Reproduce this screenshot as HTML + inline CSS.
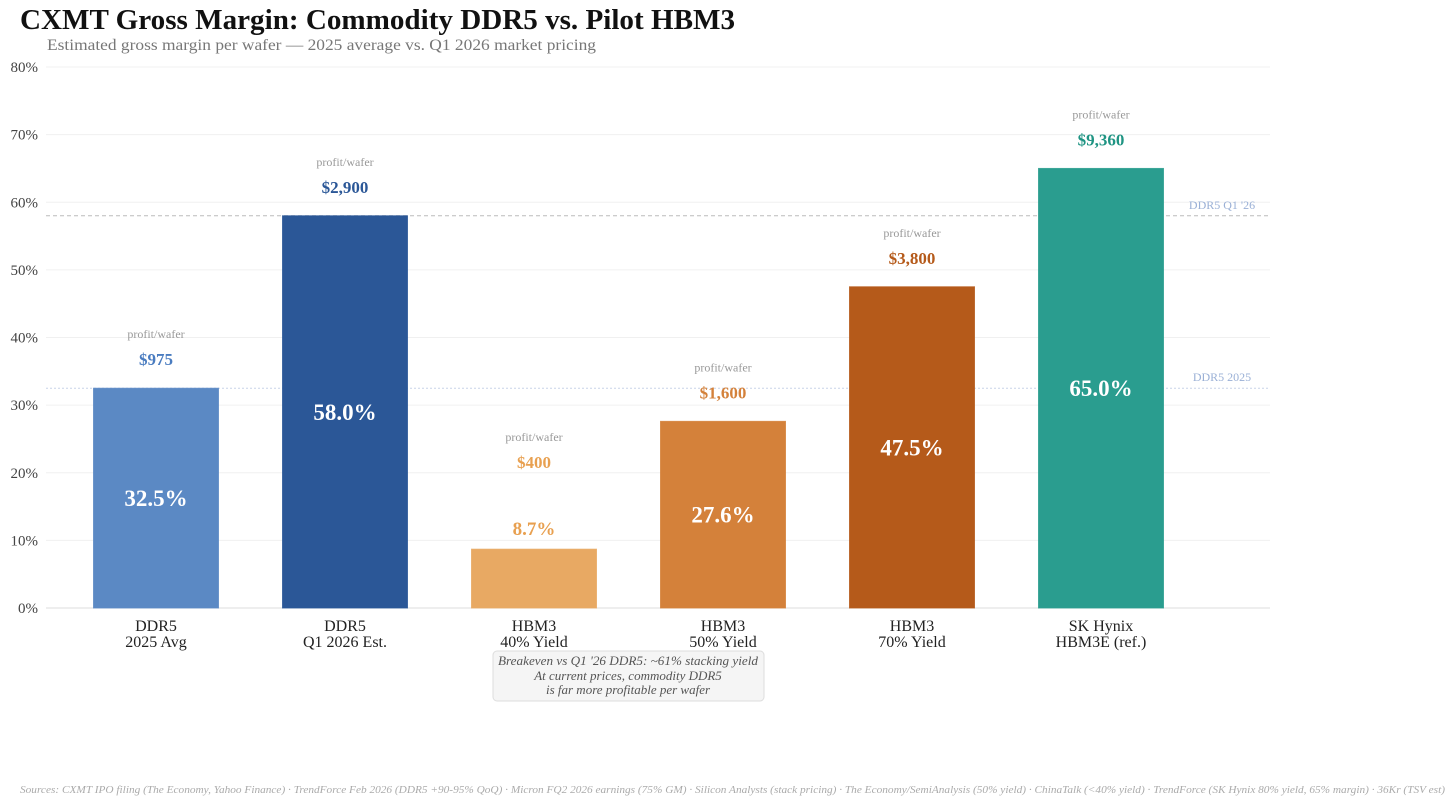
<!DOCTYPE html>
<html><head><meta charset="utf-8"><style>
body{margin:0;background:#fff;width:1456px;height:805px;overflow:hidden;font-family:"Liberation Serif",serif}
</style></head><body>
<svg id="c" width="1456" height="805" xmlns="http://www.w3.org/2000/svg" font-family="Liberation Serif, serif">
<text x="20" y="29" font-size="28" font-weight="bold" fill="#111" textLength="715" lengthAdjust="spacingAndGlyphs">CXMT Gross Margin: Commodity DDR5 vs. Pilot HBM3</text>
<text x="47" y="50" font-size="16" fill="#777" textLength="549" lengthAdjust="spacingAndGlyphs">Estimated gross margin per wafer — 2025 average vs. Q1 2026 market pricing</text>
<g id="grid"></g><g id="bars"></g>
<g>
<rect x="493" y="651" width="271" height="50" rx="4" fill="#f5f5f5" stroke="#ddd"/>
<text x="628" y="665" font-size="13" font-style="italic" fill="#555" text-anchor="middle" textLength="260" lengthAdjust="spacingAndGlyphs">Breakeven vs Q1 '26 DDR5: ~61% stacking yield</text>
<text x="628" y="680" font-size="13" font-style="italic" fill="#555" text-anchor="middle">At current prices, commodity DDR5</text>
<text x="628" y="694" font-size="13" font-style="italic" fill="#555" text-anchor="middle">is far more profitable per wafer</text>
</g>
<text x="20" y="793" font-size="10" font-style="italic" fill="#aaa" textLength="1425" lengthAdjust="spacingAndGlyphs">Sources: CXMT IPO filing (The Economy, Yahoo Finance) · TrendForce Feb 2026 (DDR5 +90-95% QoQ) · Micron FQ2 2026 earnings (75% GM) · Silicon Analysts (stack pricing) · The Economy/SemiAnalysis (50% yield) · ChinaTalk (&lt;40% yield) · TrendForce (SK Hynix 80% yield, 65% margin) · 36Kr (TSV est)</text>
</svg>
<script>
const categories=[["DDR5","2025 Avg"],["DDR5","Q1 2026 Est."],["HBM3","40% Yield"],["HBM3","50% Yield"],["HBM3","70% Yield"],["SK Hynix","HBM3E (ref.)"]];
const margins=[32.5,58.0,8.7,27.6,47.5,65.0];
const profits=["$975","$2,900","$400","$1,600","$3,800","$9,360"];
const yTicks=[0,10,20,30,40,50,60,70,80];
const refValues=[58.0,32.5];
const refLabels=["DDR5 Q1 '26","DDR5 2025"];
const fills=["#5b89c4","#2b5797","#e8a963","#d4813a","#b55a1a","#2a9d8f"];
const dollarColors=["#4a7cc0","#2b5797","#e8a050","#d4813a","#b55a1a","#1f9483"];
const NS="http://www.w3.org/2000/svg";
const y=v=>608-v*6.7625;
const x=i=>156+i*189;
function el(t,a,p,txt){const e=document.createElementNS(NS,t);for(const k in a)e.setAttribute(k,a[k]);if(txt!==undefined)e.textContent=txt;p.appendChild(e);return e;}
const g=document.getElementById('grid'),b=document.getElementById('bars');
yTicks.forEach(v=>{
  const l=el('line',{x1:46,x2:1270,y1:y(v),y2:y(v),stroke:v===0?'#ddd':'#f0f0f0','stroke-width':1},g);
  
  
  const t=el('text',{x:38,y:y(v)+5,'font-size':15,fill:'#444','text-anchor':'end'},g,v+'%');
  
  
});
refValues.forEach((v,i)=>{
  const l=el('line',{x1:46,x2:1270,y1:y(v),y2:y(v),stroke:i===0?'#bbb':'#c8d4e8','stroke-width':1,'stroke-dasharray':i===0?'4,3':'2,2'},g);
  
  
  const t=el('text',{x:1222,y:y(v)-7,'font-size':12,fill:'#9ab0d6','text-anchor':'middle'},g,refLabels[i]);
  
  
});
margins.forEach((m,i)=>{
  const cx=x(i),top=y(m);
  const r=el('rect',{x:cx-62.5,y:top,width:125,height:608-top,fill:fills[i],stroke:fills[i],'stroke-opacity':0.8},b);
  
  
  let vy,vc;
  if(m<15){vy=top-14;vc=dollarColors[i];}else{vy=(top+608)/2+8;vc='#fff';}
  const vt=el('text',{x:cx,y:vy,'font-size':m<15?19:23,'font-weight':'bold',fill:vc,'text-anchor':'middle'},b,m.toFixed(1)+'%');
  
  
  const base=m<15?top-58:top;
  const d=el('text',{x:cx,y:base-23,'font-size':17,'font-weight':'bold',fill:dollarColors[i],'text-anchor':'middle'},b,profits[i]);
  
  
  const p=el('text',{x:cx,y:base-50,'font-size':12,fill:'#999','text-anchor':'middle'},b,'profit/wafer');
  
  
  categories[i].forEach((s,j)=>{
    const c=el('text',{x:cx,y:631+j*16,'font-size':16,fill:'#222','text-anchor':'middle'},b,s);
    
    
  });
});
</script>
</body></html>
